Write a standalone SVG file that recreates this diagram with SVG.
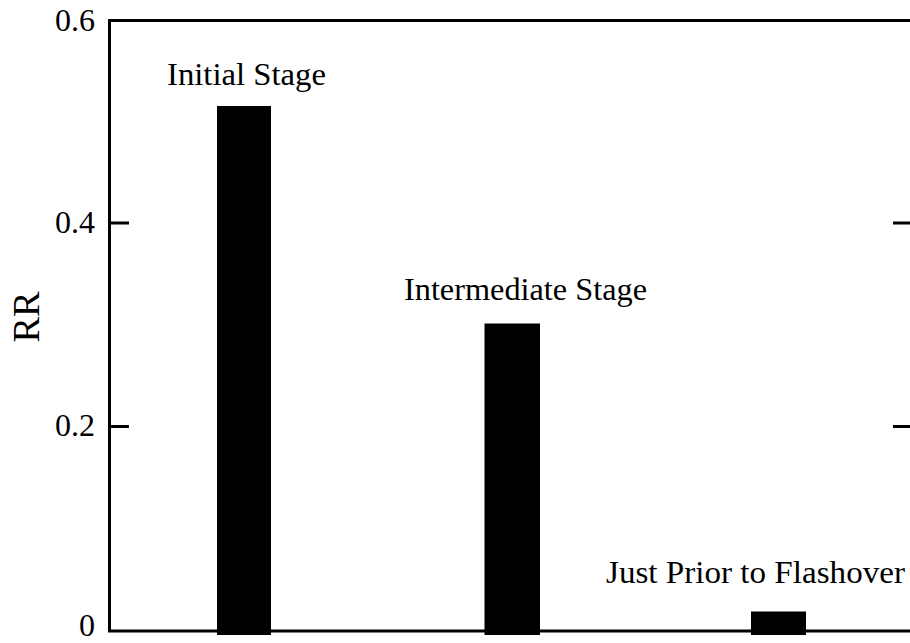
<svg xmlns="http://www.w3.org/2000/svg" width="910" height="643" viewBox="0 0 910 643">
<style>
.ax{stroke:#000;stroke-width:3;fill:none}
.bar{fill:#000}
.t{font-family:'Liberation Serif','DejaVu Serif','Times New Roman',serif;font-size:31px;fill:#000}
.tk{font-family:'Liberation Serif','DejaVu Serif','Times New Roman',serif;font-size:32px;fill:#000;text-anchor:end}
.yl{font-family:'Liberation Serif','DejaVu Serif','Times New Roman',serif;font-size:38px;fill:#000;text-anchor:middle}
</style>
<rect width="910" height="643" fill="#fff"/>
<g id="axes">
<path class="ax" d="M910,20.5 H109.5 V631 H910"/>
<path class="ax" d="M110,223 H129 M110,426.5 H129 M893,223 H910 M893,426.5 H910"/>
<text class="tk" x="95" y="31">0.6</text>
<text class="tk" x="95" y="233">0.4</text>
<text class="tk" x="95" y="436">0.2</text>
<text class="tk" x="95" y="636">0</text>
<text class="yl" transform="translate(39,317) rotate(-90)" textLength="51" lengthAdjust="spacingAndGlyphs">RR</text>
</g>
<g id="bar-initial">
<rect class="bar" x="217" y="106" width="54" height="529"/>
<text class="t" x="167" y="85" textLength="159" lengthAdjust="spacingAndGlyphs">Initial Stage</text>
</g>
<g id="bar-intermediate">
<rect class="bar" x="484.5" y="323.5" width="55.5" height="311.5"/>
<text class="t" x="404" y="300" textLength="243" lengthAdjust="spacingAndGlyphs">Intermediate Stage</text>
</g>
<g id="bar-flashover">
<rect class="bar" x="751" y="611.5" width="55" height="23.5"/>
<text class="t" x="606" y="583" textLength="299" lengthAdjust="spacingAndGlyphs">Just Prior to Flashover</text>
</g>
</svg>
